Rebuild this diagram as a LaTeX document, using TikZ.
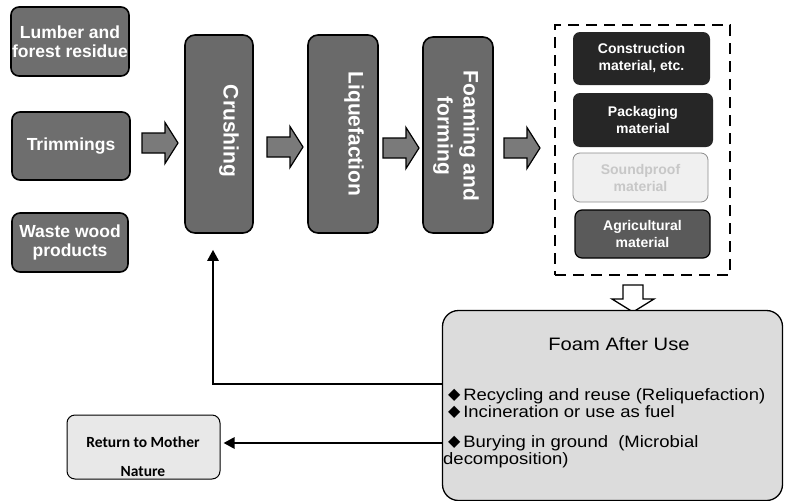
\documentclass[tikz,border=0pt]{standalone}
\usepackage{fontspec}
\setmainfont{Liberation Sans}
\newfontfamily\symfont{DejaVu Sans}
\newfontfamily\calfont{Carlito}
\newfontfamily\widefont[FakeStretch=1.12]{Liberation Sans}
\usetikzlibrary{arrows.meta}

\definecolor{rawgray}{HTML}{6E6E6E}
\definecolor{stagegray}{HTML}{6A6A6A}
\definecolor{arrowgray}{HTML}{7A7A7A}
\definecolor{darkprod}{HTML}{262626}
\definecolor{lightprod}{HTML}{F0F0F0}
\definecolor{agrigray}{HTML}{5A5A5A}
\definecolor{afterfill}{HTML}{DCDCDC}
\definecolor{naturefill}{HTML}{E8E8E8}

\newcommand\dia{\raisebox{0.5pt}{\symfont\fontsize{16}{16}\selectfont ◆}}
% block arrow pointing right, tail at (#1,#2)
\newcommand\fatarrow[2]{%
  \path[fatarrowstyle] (#1,#2-10) -- ++(23,0) -- ++(0,-10.5) -- ++(13,20.5)
    -- ++(-13,20.5) -- ++(0,-10.5) -- ++(-23,0) -- cycle;}

\tikzset{
  rawbox/.style={draw=black, line width=1.6pt, fill=rawgray, rounded corners=8pt,
    text=white, align=center, inner sep=0pt,
    font=\bfseries\fontsize{17.5}{19}\selectfont},
  stagebox/.style={draw=black, line width=1.6pt, fill=stagegray, rounded corners=10pt,
    inner sep=0pt},
  stagelabel/.style={text=white, rotate=-90, align=center, inner sep=0pt,
    font=\bfseries\fontsize{21}{26}\selectfont},
  prodbox/.style={rounded corners=7pt, text=white, align=center, inner sep=0pt,
    font=\bfseries\fontsize{14}{17}\selectfont},
  fatarrowstyle/.style={draw=black, line width=1.2pt, fill=arrowgray},
  groupbox/.style={draw=black, line width=2.4pt, dash pattern=on 11pt off 7pt,
    inner sep=0pt},
  flowline/.style={draw=black, line width=2.6pt,
    -{Triangle[length=11pt,width=11pt]}},
}

\begin{document}
\begin{tikzpicture}[x=1pt,y=-1pt]
\useasboundingbox[fill=white] (0,0) rectangle (785,501);

% raw materials
\node[rawbox, minimum width=118pt, minimum height=69pt] (lumber) at (70,41.5)
  {Lumber and\\forest residue};
\node[rawbox, minimum width=118pt, minimum height=68pt] (trim) at (71,146)
  {Trimmings};
\node[rawbox, minimum width=116pt, minimum height=59pt] (waste) at (70,242.5)
  {Waste wood\\products};

% process stages
\node[stagebox, minimum width=68pt, minimum height=198pt] (crush) at (219,134) {};
\node[stagelabel] at (229,131) {Crushing};
\node[stagebox, minimum width=70pt, minimum height=198pt] (liq) at (343,134) {};
\node[stagelabel] at (354,134) {Liquefaction};
\node[stagebox, minimum width=70pt, minimum height=196pt] (foaming) at (458,135) {};
\node[stagelabel] at (456,136) {Foaming and\\forming};

% block arrows between stages
\fatarrow{142}{143}
\fatarrow{267}{147}
\fatarrow{383}{148}
\fatarrow{504}{148}

% products
\node[groupbox, minimum width=175pt, minimum height=250pt] (products) at (642.5,150) {};
\node[prodbox, fill=darkprod, minimum width=137pt, minimum height=53pt] (cons)
  at (641.5,58.5) {Construction\\material, etc.};
\node[prodbox, fill=darkprod, minimum width=140pt, minimum height=54pt] (pack)
  at (643,120) {Packaging\\material};
\node[prodbox, fill=lightprod, draw=black!45, line width=0.8pt, text=black!22,
  minimum width=135pt, minimum height=49pt] (sound) at (640.5,177.5)
  {Soundproof\\material};
\node[prodbox, fill=agrigray, draw=black, line width=1.2pt,
  minimum width=135pt, minimum height=48pt] (agri) at (642.5,234)
  {Agricultural\\material};

% hollow arrow down to the after-use box
\path[draw=black, line width=1.3pt, fill=white]
  (623,285) -- (643,285) -- (643,299) -- (654,299) -- (633,312)
  -- (612,299) -- (623,299) -- cycle;

% after use
\node[draw=black, line width=1.3pt, fill=afterfill, rounded corners=16pt,
  minimum width=340pt, minimum height=190pt, inner sep=0pt] (after) at (612.5,405.5) {};
\node[font=\widefont\fontsize{18}{20}\selectfont] (aftertitle) at (619,344)
  {Foam After Use};
\node[anchor=north west, align=left, inner sep=0pt,
  font=\widefont\fontsize{16.5}{17}\selectfont] (afterlist) at (443,388)
  {\hspace*{5pt}\dia\,Recycling and reuse (Reliquefaction)\\
   \hspace*{5pt}\dia\,Incineration or use as fuel\\[13pt]
   \hspace*{5pt}\dia\,Burying in ground\ \ (Microbial\\
   decomposition)};

% return to nature
\node[draw=black, line width=1pt, fill=naturefill, rounded corners=8pt,
  minimum width=153pt, minimum height=64pt, inner sep=0pt] (nature) at (143.5,447) {};
\node[align=center, inner sep=0pt, font=\calfont\bfseries\fontsize{15.5}{29}\selectfont]
  (naturetxt) at (143,457) {Return to Mother\\Nature};

% recycling loop and disposal
\draw[flowline, shorten >=16pt] (after.west |- 0,384) -| ([xshift=-6pt]crush.south);
\draw[flowline, shorten >=3pt] (after.west |- 0,443) -- (nature.east |- 0,443);
\end{tikzpicture}
\end{document}
